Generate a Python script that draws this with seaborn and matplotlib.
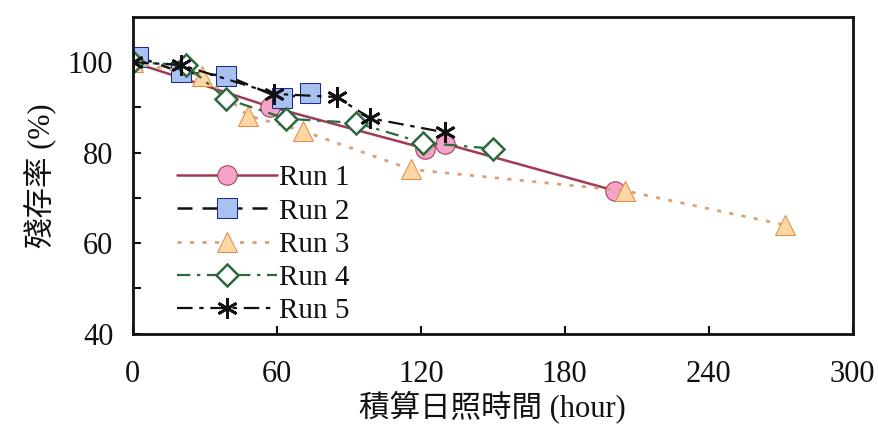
import numpy as np
import pandas as pd
import matplotlib
matplotlib.use("Agg")
import matplotlib.pyplot as plt
import seaborn as sns

# ---- data ----
run1_x = [0, 57, 122, 130, 201]
run1_y = [100, 90.2, 80.9, 82.0, 71.6]
run2_x = [2, 20, 39, 62, 74]
run2_y = [101.2, 97.8, 97.0, 92.0, 93.2]
run3_x = [0, 29, 48, 71, 116, 205, 272]
run3_y = [100, 97.0, 88.2, 84.8, 76.3, 71.6, 64.0]
run4_x = [0, 22, 39, 64, 93, 121, 150]
run4_y = [100, 99.4, 91.9, 87.5, 86.6, 82.2, 80.9]
run5_x = [0, 20, 59, 85, 99, 130]
run5_y = [100, 99.4, 93.0, 92.3, 87.6, 84.5]
labels = ["Run 1", "Run 2", "Run 3", "Run 4", "Run 5"]
x_ticks = [0, 60, 120, 180, 240, 300]
y_ticks = [40, 60, 80, 100]

sns.set_theme(style="ticks")
plt.rcParams['font.family'] = ['Liberation Serif', 'Noto Sans CJK TC']
plt.rcParams['axes.unicode_minus'] = False
plt.rcParams.update({
    "xtick.direction": "in", "ytick.direction": "in",
    "xtick.bottom": True, "ytick.left": True,
    "xtick.major.size": 6, "ytick.major.size": 6, "ytick.minor.size": 6,
    "xtick.major.width": 1.5, "ytick.major.width": 1.5, "ytick.minor.width": 1.5,
})

fig = plt.figure(figsize=(8.79, 4.34), dpi=100)
ax = fig.add_axes([0.151, 0.231, 0.819, 0.730])

series = [(run1_x, run1_y), (run2_x, run2_y), (run3_x, run3_y),
          (run4_x, run4_y), (run5_x, run5_y)]
styles = [
    dict(color="#a33a55", linestyle="-", marker="o", markerfacecolor="#f4a3c9",
         markeredgecolor="#a33a55", markersize=14, linewidth=1.8),
    dict(color="#111111", linestyle=(0, (6, 4)), marker="s", markerfacecolor="#a9c1f0",
         markeredgecolor="#1c2b88", markersize=14, linewidth=1.8),
    dict(color="#d9a27a", linestyle=(0, (1.5, 3)), marker="^", markerfacecolor="#fcd7a3",
         markeredgecolor="#e88c4c", markersize=15, linewidth=2.0),
    dict(color="#2c6a3e", linestyle=(0, (6, 3, 1.5, 3)), marker="D", markerfacecolor="white",
         markeredgecolor="#2c6a3e", markersize=11, markeredgewidth=1.8, linewidth=1.6),
    dict(color="#111111", linestyle=(0, (7, 3, 2, 3)), marker=(6, 2, 0),
         markerfacecolor="#111111", markeredgecolor="#111111", markersize=15,
         markeredgewidth=2.0, linewidth=1.6),
]

for (xs, ys), lab, st in zip(series, labels, styles):
    df = pd.DataFrame({"x": xs, "y": ys})
    sns.lineplot(data=df, x="x", y="y", ax=ax, sort=False, label=lab, **st)

ax.set_xlim(0, 300)
ax.set_ylim(40, 110)
ax.set_xticks(x_ticks)
ax.set_yticks(y_ticks)
ax.set_yticks([50, 70, 90], minor=True)
ax.tick_params(axis="both", which="both", direction="in", labelsize=22,
               length=6, width=1.5, colors="#111111", zorder=5)
ax.tick_params(axis="x", which="major", pad=19, bottom=True, top=False)
ax.tick_params(axis="y", which="both", pad=14, left=True, right=False)
for sp in ax.spines.values():
    sp.set_visible(True)
    sp.set_color("#111111")
    sp.set_linewidth(2)

ax.set_xlabel("積算日照時間 (hour)", fontsize=22, color="#111111", labelpad=1)
ax.set_ylabel("殘存率 (%)", fontsize=22, color="#111111", labelpad=8)

leg = ax.legend(loc="lower left", bbox_to_anchor=(0.045, -0.006), frameon=False,
                fontsize=21, handlelength=3.42, handletextpad=0.1,
                labelspacing=0.23, borderaxespad=0.0)
for t in leg.get_texts():
    t.set_color("#111111")

fig.savefig("out.png", dpi=100)
